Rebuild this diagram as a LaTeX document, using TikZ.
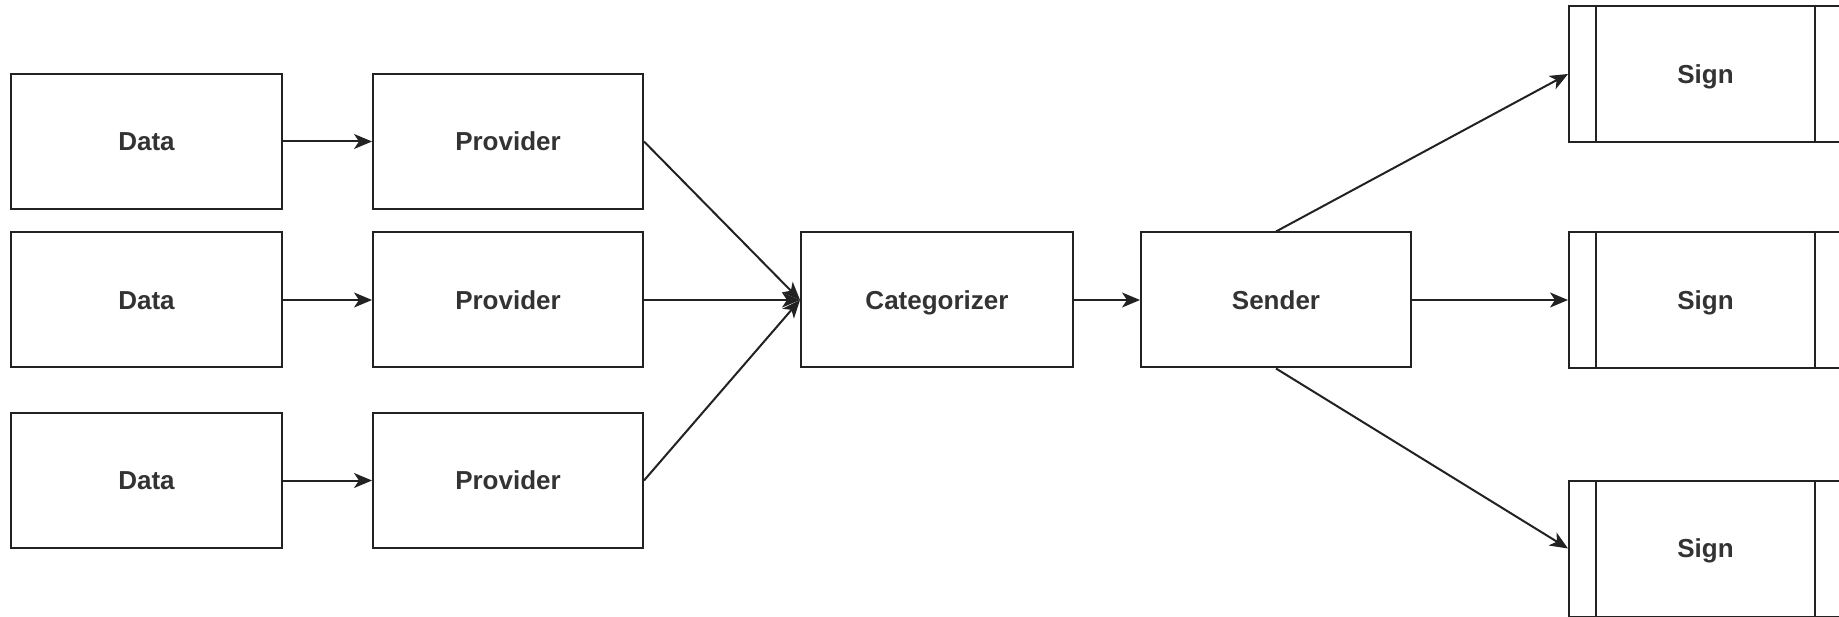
\documentclass[tikz,border=0pt]{standalone}
\usepackage{fontspec}
\setmainfont{Liberation Sans}
\usetikzlibrary{arrows.meta}
\definecolor{ink}{HTML}{222222}
\definecolor{txt}{HTML}{333333}
\begin{document}
\begin{tikzpicture}[x=1pt,y=-1pt,
  box/.style={draw=ink, line width=2pt, minimum width=270pt, minimum height=135pt,
    inner sep=0pt, text height=24pt, text depth=5.3pt,
    font=\fontsize{26}{30}\selectfont\bfseries, text=txt},
  signbox/.style={box, minimum width=273pt, minimum height=136pt},
  link/.style={draw=ink, line width=2pt,
    -{Stealth[length=18pt,width=15pt,inset=5pt]}}]
\useasboundingbox (0,0) rectangle (1839,617);
\clip (0,0) rectangle (1839,617);
\fill[white] (0,0) rectangle (1839,617);

% sources
\node[box, minimum width=271pt] (d1) at (146.5,141.5) {Data};
\node[box, minimum width=271pt] (d2) at (146.5,300) {Data};
\node[box, minimum width=271pt] (d3) at (146.5,480.5) {Data};

% providers
\node[box] (p1) at (508,141.5) {Provider};
\node[box] (p2) at (508,300) {Provider};
\node[box] (p3) at (508,480.5) {Provider};

% pipeline
\node[box, minimum width=272pt] (cat) at (937,300) {Categorizer};
\node[box] (snd) at (1276,300) {Sender};

% outputs (predefined-process boxes)
\node[signbox] (s1) at (1705.5,74) {Sign};
\node[signbox] (s2) at (1705.5,300) {Sign};
\node[signbox] (s3) at (1705.5,548.5) {Sign};
\foreach \s in {s1,s2,s3}{
  \draw[ink, line width=2pt] ([xshift=28pt]\s.north west) -- ([xshift=28pt]\s.south west);
  \draw[ink, line width=2pt] ([xshift=-28pt]\s.north east) -- ([xshift=-28pt]\s.south east);
}

% connectors
\draw[link] (d1) -- (p1);
\draw[link] (d2) -- (p2);
\draw[link] (d3) -- (p3);
\draw[link] (p1.east) -- (cat.west);
\draw[link] (p2.east) -- (cat.west);
\draw[link] (p3.east) -- (cat.west);
\draw[link] (cat) -- (snd);
\draw[link] (snd.north) -- (s1.west);
\draw[link] (snd.east) -- (s2.west);
\draw[link] (snd.south) -- (s3.west);
\end{tikzpicture}
\end{document}
